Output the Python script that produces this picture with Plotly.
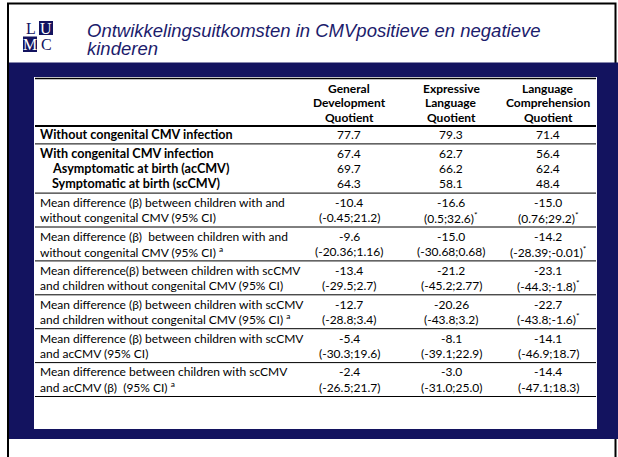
import plotly.graph_objects as go

# ---------------- data ----------------
title_lines = ["Ontwikkelingsuitkomsten in CMVpositieve en negatieve", "kinderen"]

col_headers = [
    ["General", "Development", "Quotient"],
    ["Expressive", "Language", "Quotient"],
    ["Language", "Comprehension", "Quotient"],
]

group_labels = [
    "Without congenital CMV infection",
    "With congenital CMV infection",
    "Asymptomatic at birth (acCMV)",
    "Symptomatic at birth (scCMV)",
]
group_indent = [False, False, True, True]
gdq_mean = ["77.7", "67.4", "69.7", "64.3"]
elq_mean = ["79.3", "62.7", "66.2", "58.1"]
lcq_mean = ["71.4", "56.4", "62.4", "48.4"]

diff_line1 = [
    "Mean difference (β) between children with and",
    "Mean difference (β)  between children with and",
    "Mean difference(β) between children with scCMV",
    "Mean difference (β) between children with scCMV",
    "Mean difference (β) between children with scCMV",
    "Mean difference between children with scCMV",
]
diff_line2 = [
    "without congenital CMV (95% CI)",
    "without congenital CMV (95% CI)",
    "and children without congenital CMV (95% CI)",
    "and children without congenital CMV (95% CI)",
    "and acCMV (95% CI)",
    "and acCMV (β)  (95% CI)",
]
diff_adjusted = [False, True, False, True, False, True]

gdq_beta = ["-10.4", "-9.6", "-13.4", "-12.7", "-5.4", "-2.4"]
gdq_ci = ["(-0.45;21.2)", "(-20.36;1.16)", "(-29.5;2.7)", "(-28.8;3.4)", "(-30.3;19.6)", "(-26.5;21.7)"]
gdq_sig = [False, False, False, False, False, False]
elq_beta = ["-16.6", "-15.0", "-21.2", "-20.26", "-8.1", "-3.0"]
elq_ci = ["(0.5;32.6)", "(-30.68;0.68)", "(-45.2;2.77)", "(-43.8;3.2)", "(-39.1;22.9)", "(-31.0;25.0)"]
elq_sig = [True, False, False, False, False, False]
lcq_beta = ["-15.0", "-14.2", "-23.1", "-22.7", "-14.1", "-14.4"]
lcq_ci = ["(0.76;29.2)", "(-28.39;-0.01)", "(-44.3;-1.8)", "(-43.8;-1.6)", "(-46.9;18.7)", "(-47.1;18.3)"]
lcq_sig = [True, True, True, True, False, False]

# ---------------- layout constants ----------------
W, H = 618, 457
NAVY = "#13135f"
TITLE_COLOR = "#1c1c6c"
TFONT = "Lato"
TSIZE = 12
HSIZE = 12
BSIZE = 12.6

col_x = [349, 451, 548]
label_x = 38
indent_x = 50
line_x0, line_x1 = 35, 596

s = 15.3   # line pitch
d = 3.3    # extra gap at row separators

fig = go.Figure()
fig.add_trace(go.Scatter(x=[0, W], y=[0, H], mode="markers",
                         marker=dict(opacity=0, size=1), hoverinfo="skip", showlegend=False))

shapes = []
ann = []

def text(x, y, t, size=TSIZE, color="black", family=TFONT, xanchor="left"):
    ann.append(dict(x=x, y=y, xref="x", yref="y", text=t, showarrow=False,
                    xanchor=xanchor, yanchor="middle",
                    font=dict(family=family, size=size, color=color)))

def hline(y, width=1):
    shapes.append(dict(type="line", xref="x", yref="y", x0=line_x0, x1=line_x1,
                       y0=y, y1=y, line=dict(color="black", width=width)))

# outer border
shapes.append(dict(type="rect", xref="x", yref="y", x0=8, x1=615.5, y0=3.5, y1=480,
                   line=dict(color="black", width=2), fillcolor="rgba(0,0,0,0)"))
# navy band
shapes.append(dict(type="rect", xref="x", yref="y", x0=9, x1=620, y0=62.5, y1=439,
                   line=dict(width=0), fillcolor=NAVY))
# white table area
shapes.append(dict(type="rect", xref="x", yref="y", x0=34, x1=597, y0=77, y1=429,
                   line=dict(width=0), fillcolor="white"))
# logo squares
shapes.append(dict(type="rect", xref="x", yref="y", x0=39, x1=53, y0=21, y1=35,
                   line=dict(width=0), fillcolor=NAVY))
shapes.append(dict(type="rect", xref="x", yref="y", x0=23, x1=37, y0=36.5, y1=52,
                   line=dict(width=0), fillcolor=NAVY))
text(31, 28.5, "L", size=16, color=NAVY, family="Liberation Serif", xanchor="center")
text(46, 28.5, "U", size=16, color="white", family="Liberation Serif", xanchor="center")
text(30, 44.8, "M", size=16, color="white", family="Liberation Serif", xanchor="center")
text(46, 44.8, "C", size=16, color=NAVY, family="Liberation Serif", xanchor="center")

# title
text(85, 30, "<i>" + title_lines[0] + "</i>", size=18.5, color=TITLE_COLOR,
     family="Liberation Sans")
text(85, 48, "<i>" + title_lines[1] + "</i>", size=18.5, color=TITLE_COLOR,
     family="Liberation Sans")

# table top line
hline(78.5, 1.5)

# header
y_head = [88, 102.5, 117]
for ci, lines in enumerate(col_headers):
    for li, t in enumerate(lines):
        text(col_x[ci], y_head[li], "<b>" + t + "</b>", size=HSIZE, xanchor="center")
hline(126, 2.2)

# group rows
y_without = 134.6
y_rows = [y_without, y_without + s + d, y_without + 2 * s + d, y_without + 3 * s + d]
means = [gdq_mean, elq_mean, lcq_mean]
for i, lab in enumerate(group_labels):
    text(indent_x if group_indent[i] else label_x, y_rows[i], "<b>" + lab + "</b>",
         size=BSIZE)
    for ci in range(3):
        text(col_x[ci], y_rows[i], means[ci][i], xanchor="center")
hline(y_without + (s + d) / 2)

# difference rows
betas = [gdq_beta, elq_beta, lcq_beta]
cis = [gdq_ci, elq_ci, lcq_ci]
sigs = [gdq_sig, elq_sig, lcq_sig]
y = y_rows[-1]
for i in range(len(diff_line1)):
    hline(y + (s + d) / 2)
    ya = y + s + d
    yb = ya + s
    text(label_x, ya, diff_line1[i])
    text(label_x, yb, diff_line2[i] + (" <sup>a</sup>" if diff_adjusted[i] else ""))
    for ci in range(3):
        text(col_x[ci], ya, betas[ci][i], xanchor="center")
        text(col_x[ci], yb, cis[ci][i] + ("<sup>*</sup>" if sigs[ci][i] else ""),
             xanchor="center")
    y = yb
hline(y + (s + d) / 2)

fig.update_layout(
    width=W, height=H, margin=dict(l=0, r=0, t=0, b=0),
    paper_bgcolor="white", plot_bgcolor="white",
    xaxis=dict(range=[0, W], visible=False, fixedrange=True),
    yaxis=dict(range=[H, 0], visible=False, fixedrange=True),
    shapes=shapes, annotations=ann, showlegend=False,
)

fig.write_html("out.html", config={"displayModeBar": False},
               post_script="document.body.style.margin='0';")
